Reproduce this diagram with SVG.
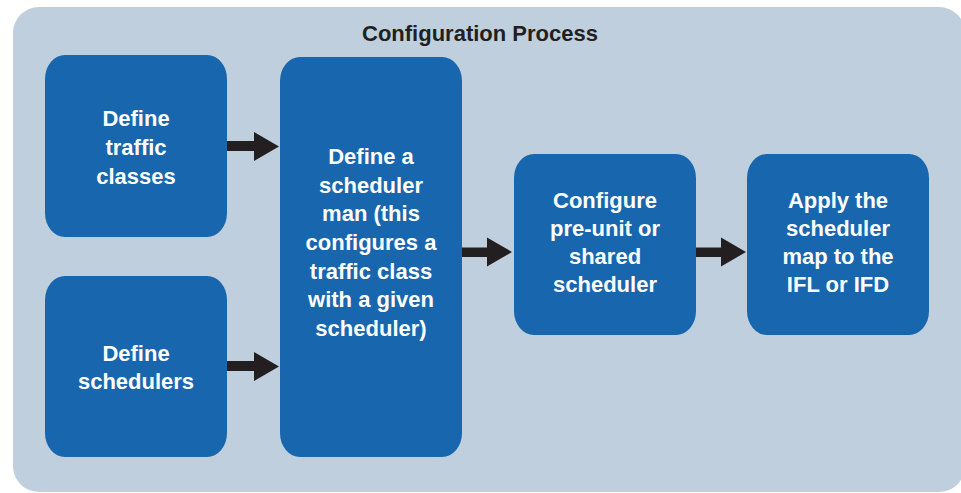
<svg xmlns="http://www.w3.org/2000/svg" width="961" height="493" viewBox="0 0 961 493">
<style>
.panel{fill:#BFCFDE}
.box{fill:#1866AE}
.t{font-family:"Liberation Sans",Arial,sans-serif;font-weight:bold;font-size:22px;fill:#FFFFFF;text-anchor:middle}
.title{font-family:"Liberation Sans",Arial,sans-serif;font-weight:bold;font-size:22px;fill:#231F20;text-anchor:middle}
.arr{fill:#231F20}
</style>
<rect class="panel" x="13" y="7" width="952" height="485" rx="26" ry="26"/>
<text class="title" x="480" y="41">Configuration Process</text>
<g id="traffic-classes">
<rect class="box" x="45" y="55" width="182" height="182" rx="20" ry="24"/>
<text class="t" x="136" y="126">Define</text>
<text class="t" x="136" y="155">traffic</text>
<text class="t" x="136" y="184">classes</text>
</g>
<g id="schedulers">
<rect class="box" x="45" y="276" width="182" height="181" rx="20" ry="24"/>
<text class="t" x="136" y="361">Define</text>
<text class="t" x="136" y="389">schedulers</text>
</g>
<g id="scheduler-map">
<rect class="box" x="280" y="57" width="182" height="400" rx="20" ry="24"/>
<text class="t" x="371" y="164">Define a</text>
<text class="t" x="371" y="193">scheduler</text>
<text class="t" x="371" y="221">man (this</text>
<text class="t" x="371" y="250">configures a</text>
<text class="t" x="371" y="279">traffic class</text>
<text class="t" x="371" y="307">with a given</text>
<text class="t" x="371" y="336">scheduler)</text>
</g>
<g id="configure">
<rect class="box" x="514" y="154" width="182" height="181" rx="20" ry="24"/>
<text class="t" x="605" y="208">Configure</text>
<text class="t" x="605" y="236">pre-unit or</text>
<text class="t" x="605" y="264">shared</text>
<text class="t" x="605" y="292">scheduler</text>
</g>
<g id="apply">
<rect class="box" x="747" y="154" width="182" height="181" rx="20" ry="24"/>
<text class="t" x="838" y="208">Apply the</text>
<text class="t" x="838" y="236">scheduler</text>
<text class="t" x="838" y="264">map to the</text>
<text class="t" x="838" y="292">IFL or IFD</text>
</g>
<g id="connectors">
<polygon class="arr" points="227,141 254,141 254,132 279,146.5 254,161 254,151 227,151"/>
<polygon class="arr" points="227,361 254,361 254,352 279,366.5 254,381 254,371 227,371"/>
<polygon class="arr" points="462,247.5 487,247.5 487,237.5 512,252 487,266.5 487,257 462,257"/>
<polygon class="arr" points="696,247.5 721,247.5 721,237.5 746,252 721,266.5 721,257 696,257"/>
</g>
</svg>
